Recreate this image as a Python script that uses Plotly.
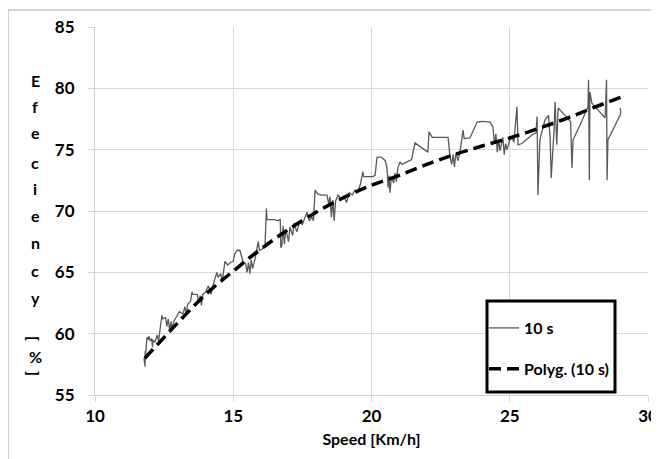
import plotly.graph_objects as go

# ---- data ----
speed_10s = [11.77, 11.80, 11.82, 11.80, 11.85, 11.88, 11.92, 11.95, 12.00, 12.05, 12.08, 12.10, 12.17,
             12.25, 12.30, 12.35, 12.42, 12.45, 12.55, 12.60, 12.65, 12.70, 12.75, 12.78, 12.85, 12.95,
             13.05, 13.18, 13.25, 13.30, 13.35, 13.45, 13.51, 13.55, 13.70, 13.75, 13.80, 13.85, 13.90,
             14.00, 14.10, 14.20, 14.30, 14.41, 14.45, 14.55, 14.60, 14.70, 14.80, 14.90, 15.00, 15.05,
             15.15, 15.24, 15.30, 15.35, 15.45, 15.50, 15.55, 15.60, 15.65, 15.70, 15.80, 15.90, 15.95,
             16.05, 16.15, 16.20, 16.22, 16.35, 16.50, 16.60, 16.70, 16.72, 16.76, 16.80, 16.85, 16.90,
             17.00, 17.05, 17.15, 17.20, 17.30, 17.40, 17.50, 17.60, 17.67, 17.75, 17.85, 17.90, 17.96,
             18.05, 18.20, 18.39, 18.45, 18.50, 18.55, 18.60, 18.65, 18.70, 18.79, 18.90, 19.00, 19.10,
             19.20, 19.30, 19.40, 19.50, 19.60, 19.69, 19.72, 19.90, 20.05, 20.13, 20.20, 20.35, 20.50,
             20.56, 20.60, 20.63, 20.67, 20.72, 20.80, 20.85, 20.90, 20.95, 21.03, 21.10, 21.20, 21.30,
             21.45, 21.57, 21.80, 22.04, 22.08, 22.20, 22.50, 22.77, 22.84, 22.90, 22.95, 23.00, 23.05,
             23.13, 23.20, 23.31, 23.35, 23.56, 23.82, 24.00, 24.29, 24.39, 24.45, 24.50, 24.55, 24.60,
             24.65, 24.75, 24.80, 24.85, 24.90, 25.00, 25.08, 25.15, 25.26, 25.30, 25.44, 25.60, 25.80,
             25.95, 25.99, 26.02, 26.09, 26.27, 26.40, 26.46, 26.50, 26.60, 26.64, 26.70, 26.75, 27.00,
             27.20, 27.25, 27.29, 27.60, 27.83, 27.85, 27.88, 27.90, 27.97, 28.20, 28.45, 28.50, 28.52,
             28.55, 28.80, 28.99, 29.02, 28.98]
eff_10s = [58.0, 57.5, 58.6, 57.3, 58.8, 59.7, 59.5, 59.8, 59.4, 59.6, 58.9, 59.5, 59.3,
           59.9, 59.4, 60.3, 61.5, 61.2, 61.3, 60.6, 61.2, 60.2, 61.0, 60.4, 61.0, 61.4,
           61.8, 61.6, 62.2, 61.5, 62.4, 62.6, 63.4, 63.2, 63.2, 62.5, 63.1, 62.3, 63.2,
           63.4, 63.9, 63.2, 64.2, 65.0, 64.6, 64.9, 64.2, 65.9, 65.6, 65.8, 65.9, 66.5,
           66.8, 66.8, 66.4, 65.9, 65.7, 65.0, 65.8, 64.9, 66.0, 65.3, 66.2, 67.5, 66.8,
           66.9, 67.2, 70.2, 69.3, 69.3, 69.3, 69.2, 69.3, 67.0, 67.2, 68.8, 67.3, 68.5,
           67.5, 68.7, 68.0, 69.0, 68.3, 69.1, 68.9, 69.5, 69.9, 69.2, 69.5, 69.2, 71.7,
           71.4, 71.3, 71.3, 70.6, 71.15, 69.5, 70.9, 69.2, 70.8, 71.3, 71.0, 71.2, 70.7,
           71.5, 71.3, 71.7, 71.5, 72.2, 73.2, 72.8, 72.8, 72.8, 72.9, 74.4, 74.4, 74.1,
           73.5, 71.9, 72.9, 71.5, 72.8, 72.3, 73.1, 72.4, 73.5, 74.0, 73.8, 73.9, 74.0,
           74.2, 75.55, 75.2, 74.8, 76.45, 76.0, 76.0, 76.0, 74.4, 73.8, 74.6, 73.6, 74.7,
           74.1, 74.8, 76.6, 75.9, 75.95, 77.25, 77.3, 77.25, 76.85, 75.5, 76.3, 74.8, 75.8,
           74.9, 76.0, 74.6, 75.5, 75.0, 75.8, 76.0, 75.6, 78.5, 75.4, 75.5, 75.8, 76.2,
           76.4, 77.7, 71.3, 75.8, 77.4, 77.8, 76.0, 72.7, 76.5, 78.9, 75.4, 78.4, 77.8,
           77.3, 73.5, 75.8, 77.3, 78.5, 80.7, 72.5, 79.7, 78.8, 78.2, 77.6, 80.7, 72.5,
           75.8, 77.0, 77.8, 78.1, 78.4]

speed_fit = [11.8, 12.5, 13.0, 14.0, 15.0, 16.0, 17.0, 18.0, 19.0, 20.0, 21.0, 22.0, 23.0,
             24.0, 25.0, 26.0, 27.0, 28.0, 29.05]
eff_fit = [58.0, 59.7, 60.9, 63.2, 65.1, 66.9, 68.5, 69.9, 71.1, 72.1, 72.9, 73.8, 74.6,
           75.3, 75.95, 76.7, 77.5, 78.4, 79.3]

x_ticks = [10, 15, 20, 25, 30]
y_ticks = [55, 60, 65, 70, 75, 80, 85]
y_title_letters = ["E", "f", "e", "c", "i", "e", "n", "c", "y"]
legend_names = ["10 s", "Polyg. (10 s)"]

FONT = "Lato"
OFF = 8                      # page body margin added by the html page
W, H = 659, 459
ML, MT = 95 - OFF, 27 - OFF
MR = W - (648 - OFF)
MB = H - (395 - OFF)
PW, PH = W - ML - MR, H - MT - MB


def px_x(px):                # window pixel -> paper x
    return (px - OFF - ML) / PW


def px_y(py):                # window pixel -> paper y
    return (H - MB - (py - OFF)) / PH


fig = go.Figure()
fig.add_trace(go.Scatter(
    x=speed_10s, y=eff_10s, mode="lines", name=legend_names[0], legendgroup="a",
    line=dict(color="#595959", width=1.3)))
fig.add_trace(go.Scatter(
    x=speed_fit, y=eff_fit, mode="lines", name=legend_names[1], legendgroup="b",
    line=dict(color="black", width=3.5, dash="12px,6px", shape="spline")))

axis_common = dict(
    showgrid=True, gridcolor="#d9d9d9", gridwidth=1,
    showline=True, linecolor="#d0d0d0", linewidth=1,
    ticks="outside", ticklen=6, tickcolor="#d9d9d9",
    tickfont=dict(family=FONT, size=17, color="black", weight="bold"),
    zeroline=False, automargin=False,
)
fig.update_xaxes(range=[10, 30], tickvals=x_ticks, ticklabelstandoff=0,
                 title=dict(text="Speed [Km/h]", standoff=8,
                            font=dict(family=FONT, size=16, color="black", weight="bold")),
                 **axis_common)
fig.update_yaxes(range=[55, 85], tickvals=y_ticks, ticklabelstandoff=10, **axis_common)

# stacked y-axis title
letter_font = dict(family=FONT, size=16, color="black", weight="bold")
letter_py = [80, 107, 133, 162, 188, 215, 243, 270, 297]
for ch, py in zip(y_title_letters, letter_py):
    fig.add_annotation(x=px_x(35), y=px_y(py), xref="paper", yref="paper", text=ch,
                       xanchor="center", yanchor="middle", showarrow=False, font=letter_font)
for ch, py, ang in [("[", 338, 90), ("%", 356, 0), ("]", 373, 90)]:
    fig.add_annotation(x=px_x(35), y=px_y(py), xref="paper", yref="paper", text=ch, textangle=ang,
                       xanchor="center", yanchor="middle", showarrow=False, font=letter_font)

# outer chart border
fig.add_shape(type="rect", xref="paper", yref="paper", x0=px_x(8), x1=px_x(690),
              y0=px_y(490), y1=px_y(10), line=dict(color="#a6a6a6", width=1), layer="below")
# legend box
fig.add_shape(type="rect", xref="paper", yref="paper", x0=px_x(487), x1=px_x(615),
              y0=px_y(392), y1=px_y(301), line=dict(color="black", width=3),
              fillcolor="white", layer="above")

fig.update_layout(
    width=W, height=H, margin=dict(l=ML, r=MR, t=MT, b=MB, autoexpand=False),
    paper_bgcolor="white", plot_bgcolor="white",
    showlegend=True,
    legend=dict(x=px_x(484), y=px_y(311), xanchor="left", yanchor="top",
                bgcolor="rgba(0,0,0,0)", borderwidth=0, traceorder="grouped",
                tracegroupgap=17, itemwidth=30,
                font=dict(family=FONT, size=16, color="black", weight="bold")),
)

fig.write_html("out.html")
